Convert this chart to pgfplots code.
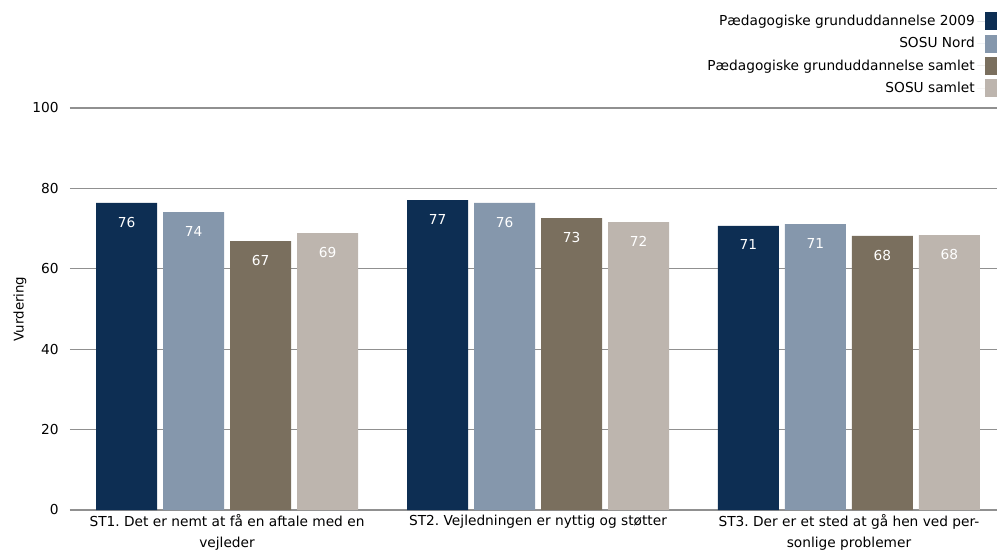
\documentclass[border=0pt]{standalone}
\usepackage{pgfplots}
\pgfplotsset{compat=1.18}
\usepackage{fontspec}
\setmainfont{DejaVu Sans}

\definecolor{cA}{HTML}{0D2E53}
\definecolor{cB}{HTML}{8597AC}
\definecolor{cC}{HTML}{7A6F5E}
\definecolor{cD}{HTML}{BDB5AE}
\definecolor{gridc}{HTML}{909090}

\newcommand{\lblfont}{\fontsize{10.3}{15.5}\selectfont}

\begin{document}
\frenchspacing
\begin{tikzpicture}[x=1pt,y=1pt]
\path[use as bounding box] (-52.5,-33) rectangle (695.25,382.5);
\begin{axis}[
    scale only axis,
    width=695.25pt, height=301.5pt,
    ybar=4.5pt, bar width=45.75pt,
    xmin=-0.505, xmax=2.476,
    ymin=0, ymax=100,
    ytick={0,20,...,100},
    xtick={0,1,2},
    xticklabels={{ST1. Det er nemt at få en aftale med en\\vejleder},
                 {ST2. Vejledningen er nyttig og støtter},
                 {ST3. Der er et sted at gå hen ved per-\\sonlige problemer}},
    xticklabel style={align=center, font=\lblfont, yshift=0pt},
    yticklabel style={font=\lblfont, xshift=-5pt},
    /pgf/number format/assume math mode=true,
    major tick length=0pt,
    axis x line*=bottom, axis y line*=left,
    x axis line style={draw=gridc, line width=0.8pt, -},
    y axis line style={draw=none},
    ymajorgrids, grid style={draw=gridc, line width=0.8pt},
    ylabel={Vurdering},
    ylabel style={font=\lblfont},
    every axis y label/.style={at={(axis description cs:-0.054,0.5)}, rotate=90, anchor=center},
    nodes near coords={\pgfmathprintnumber[fixed,precision=0]{\pgfplotspointmeta}},
    every node near coord/.append style={anchor=north, yshift=-7pt, text=white, font=\lblfont},
    legend style={at={(rel axis cs:1,1)}, anchor=south east, yshift=8pt,
        draw=none, fill=none, row sep=3.2pt, inner sep=0pt,
        font=\fontsize{10.3}{11.5}\selectfont,
        cells={anchor=east}},
    legend plot pos=right,
    legend image code/.code={\path (0pt,0pt) -- (14.5pt,0pt);
        \fill[#1] (5.5pt,-6.75pt) rectangle (14.5pt,6.75pt);},
    tick style={draw=none},
    clip=false,
]
\addplot[fill=cA, draw=none] coordinates {(0,76.4) (1,77.1) (2,70.7)};
\addplot[fill=cB, draw=none] coordinates {(0,74.1) (1,76.4) (2,71.1)};
\addplot[fill=cC, draw=none] coordinates {(0,66.9) (1,72.6) (2,68.2)};
\addplot[fill=cD, draw=none] coordinates {(0,68.9) (1,71.6) (2,68.4)};
\legend{Pædagogiske grunduddannelse 2009, SOSU Nord, Pædagogiske grunduddannelse samlet, SOSU samlet}
\end{axis}
\end{tikzpicture}
\end{document}
